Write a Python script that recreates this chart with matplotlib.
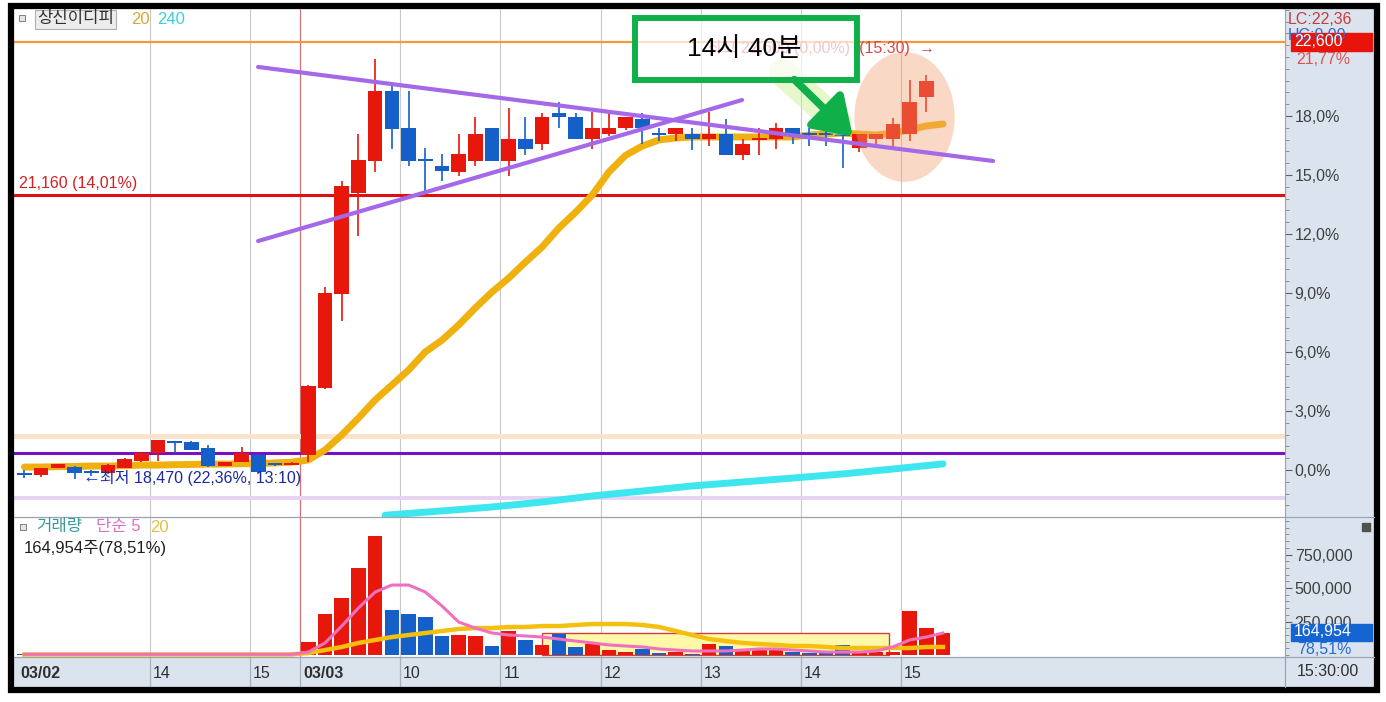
"""Intraday 10-minute candle chart: 상신이디피, 03/02 - 03/03."""

import matplotlib

matplotlib.use("Agg")
import matplotlib.pyplot as plt
import numpy as np
from matplotlib.lines import Line2D
from matplotlib.patches import Ellipse, Rectangle
from matplotlib.ticker import FixedLocator, FuncFormatter, MultipleLocator

plt.rcParams["font.family"] = ["Liberation Sans", "Noto Sans CJK KR", "DejaVu Sans"]

W, H = 1386, 702

# ---- data: 10-minute slots, 0 = 03/03 09:00, negatives = 03/02 afternoon ----
slots = list(range(-17, 39))
opens = [-0.18, -0.25, 0.1, 0.15, -0.1, -0.15, 0.1, 0.46, 0.86, 1.42, 1.42, 1.12, 0.2, 0.41, 0.76, 0.3, 0.3,
         0.76, 4.17, 8.95, 14.08, 15.71, 19.27, 17.39, 15.78, 15.45, 15.15, 15.71, 17.39, 15.71, 16.83,
         16.57, 18.15, 17.95, 16.83, 17.08, 17.39, 17.85, 17.08, 17.08, 17.08, 16.83, 17.08, 16.0, 16.83,
         16.83, 17.39, 17.08, 17.08, 17.08, 16.37, 16.83, 16.83, 17.08, 18.96, 21.77]
closes = [-0.2, 0.1, 0.3, -0.15, -0.12, 0.25, 0.56, 0.86, 1.53, 1.40, 1.02, 0.2, 0.41, 0.86, -0.1, 0.29, 0.31,
          4.27, 9.0, 14.44, 15.76, 19.27, 17.34, 15.71, 15.76, 15.2, 16.07, 17.08, 15.71, 16.83, 16.32,
          17.95, 17.95, 16.83, 17.39, 17.39, 17.95, 17.39, 17.06, 17.39, 16.83, 17.08, 16.0, 16.57, 16.85,
          17.39, 17.08, 17.06, 17.06, 17.0, 17.08, 17.08, 17.6, 18.7, 19.78, 21.77]
highs = [0.0, 0.1, 0.3, 0.2, 0.0, 0.3, 0.6, 0.9, 1.55, 1.42, 1.45, 1.27, 0.41, 1.17, 0.8, 0.36, 0.4,
         4.3, 9.3, 14.7, 17.08, 20.9, 19.7, 19.27, 16.37, 16.07, 17.08, 17.95, 17.39, 18.4, 17.95,
         18.15, 18.7, 18.15, 18.2, 18.2, 17.95, 18.15, 17.39, 17.39, 17.39, 18.2, 17.85, 16.83, 17.39,
         17.65, 17.39, 17.39, 17.39, 17.2, 17.1, 17.08, 17.9, 19.83, 20.08, 21.77]
lows = [-0.4, -0.36, 0.1, -0.48, -0.3, -0.2, 0.1, 0.4, 0.46, 0.86, 1.0, 0.15, 0.2, 0.4, -0.15, 0.2, 0.25,
        0.41, 4.1, 7.6, 11.9, 15.15, 16.3, 15.45, 14.13, 14.69, 14.95, 15.45, 15.71, 14.95, 16.0,
        16.27, 17.39, 16.83, 16.32, 16.98, 17.29, 16.57, 16.73, 16.73, 16.27, 16.47, 16.0, 15.76, 16.0,
        16.32, 16.57, 16.47, 16.47, 15.37, 16.17, 16.5, 16.42, 16.73, 18.2, 21.77]
ma20 = [0.15, 0.15, 0.17, 0.18, 0.2, 0.2, 0.22, 0.25, 0.25, 0.27, 0.28, 0.3, 0.3, 0.32, 0.33, 0.36, 0.4,
        0.51, 1.02, 1.78, 2.64, 3.56, 4.32, 5.08, 6.0, 6.6, 7.37, 8.24, 9.05, 9.76, 10.57, 11.34, 12.3,
        13.1, 13.98, 15.15, 16.0, 16.47, 16.78, 16.88, 16.93, 16.93, 16.93, 16.93, 16.93, 16.93, 16.93,
        17.03, 17.08, 17.13, 17.08, 17.03, 17.13, 17.29, 17.49, 17.59]
ma240_slots = [5.1, 8.5, 11.5, 14.5, 17.5, 20.5, 23.5, 26.5, 29.5, 32.5, 35.5, 38.5]
ma240 = [-2.3, -2.08, -1.88, -1.63, -1.32, -1.07, -0.81, -0.61, -0.41, -0.2, 0.05, 0.31]

# volume in thousands of shares
volume = [4, 6, 3, 5, 3, 4, 5, 6, 8, 4, 3, 5, 4, 3, 6, 4, 3,
          97, 306, 425, 649, 888, 336, 306, 284, 142, 149, 142, 67, 179, 112, 75, 157, 60, 82, 37, 22,
          45, 15, 22, 8, 82, 67, 45, 45, 37, 22, 15, 12, 75, 22, 22, 22, 328, 201, 165]
vol_ma5 = [5] * 17 + [22, 90, 216, 351, 470, 522, 522, 470, 366, 246, 201, 164, 149, 142, 134, 119, 104,
                      90, 75, 67, 60, 45, 37, 30, 30, 30, 37, 45, 45, 37, 30, 22, 22, 22, 30, 60, 112,
                      134, 164]
vol_ma20 = [4] * 17 + [15, 37, 60, 90, 112, 134, 149, 164, 179, 194, 201, 201, 209, 209, 216, 216, 224,
                       231, 231, 231, 224, 209, 179, 149, 119, 104, 90, 82, 75, 67, 67, 60, 52, 52, 52,
                       52, 52, 60, 60]

# triangle trend lines (slot, %)
upper_x, upper_y = [-2.51, 41.5], [20.49, 15.71]
lower_x, lower_y = [-2.51, 26.47], [11.64, 18.81]

level_now = 21.77      # 22,600
level_mark = 13.97     # 21,160 (14,01%)
level_peach = 1.73
level_purple = 0.86
level_lilac = -1.42

grid_slots = [-9, -3, 6, 12, 18, 24, 30, 36]
axis_labels = [(-16.95, "03/02", True), (-9, "14", False), (-3, "15", False), (0, "03/03", True),
               (6, "10", False), (12, "11", False), (18, "12", False), (24, "13", False),
               (30, "14", False), (36, "15", False)]

RED = "#e8170c"
BLUE = "#1560c8"
AXIS_BG = "#dbe4ee"
GREEN = "#0fb04a"
XLIM = ((14 - 300) / 16.7, (1285 - 300) / 16.7)


def box_px(x0, y0, x1, y1):
    return [x0 / W, 1 - y1 / H, (x1 - x0) / W, (y1 - y0) / H]


def ftext(x, y, s, **kw):
    kw.setdefault("va", "center")
    kw.setdefault("fontsize", 11.5)
    fig.text(x / W, 1 - y / H, s, **kw)


def frect(x0, y0, x1, y1, **kw):
    fig.patches.append(Rectangle((x0 / W, 1 - y1 / H), (x1 - x0) / W, (y1 - y0) / H,
                                 transform=fig.transFigure, **kw))


def fline(x0, y0, x1, y1, **kw):
    fig.lines.append(Line2D([x0 / W, x1 / W], [1 - y0 / H, 1 - y1 / H], transform=fig.transFigure, **kw))


fig = plt.figure(figsize=(W / 100, H / 100), dpi=100)
fig.patch.set_facecolor("white")

frect(1285, 8, 1374, 687, color=AXIS_BG, zorder=-2)
frect(14, 657, 1285, 687, color=AXIS_BG, zorder=-2)

ax_p = fig.add_axes(box_px(14, 9, 1285, 517))
ax_v = fig.add_axes(box_px(14, 517, 1285, 657))
ax_x = fig.add_axes(box_px(14, 657, 1285, 687))

x = np.array(slots) + 0.5
o, c, h, l = (np.array(v) for v in (opens, closes, highs, lows))
colors = np.where(c >= o, RED, BLUE)

for ax in (ax_p, ax_v):
    ax.set_xlim(*XLIM)
    ax.set_facecolor("white")
    for side in ("left", "top", "bottom"):
        ax.spines[side].set_visible(False)
    ax.spines["right"].set_color("#9aa4b0")
    ax.set_xticks([])
    ax.vlines(grid_slots, 0, 1, transform=ax.get_xaxis_transform(), color="#c8c8c8", lw=0.8, zorder=1)
    ax.vlines([0], 0, 1, transform=ax.get_xaxis_transform(), color="#d07070", lw=0.9, zorder=1)
    ax.yaxis.tick_right()
    ax.tick_params(axis="y", which="major", length=5, color="#606060", labelsize=11.5,
                   labelcolor="#404040", pad=2)
    ax.tick_params(axis="y", which="minor", length=3, color="#808080")

# ---- price panel ----
ax_p.set_ylim((470 - 517) / 19.67, (470 - 9) / 19.67)
ax_p.yaxis.set_major_locator(FixedLocator([0, 3, 6, 9, 12, 15, 18]))
ax_p.yaxis.set_minor_locator(MultipleLocator(0.6))
ax_p.yaxis.set_major_formatter(FuncFormatter(lambda v, _: f"{v:.1f}%".replace(".", ",")))

ax_p.axhline(level_peach, color="#fbe2cb", lw=3.6, zorder=1.5)
ax_p.axhline(level_lilac, color="#e6d3f2", lw=2.8, zorder=1.5)
ax_p.axhline(level_purple, color="#7412c4", lw=2.2, zorder=2)
ax_p.axhline(level_mark, color="#e01010", lw=2.2, zorder=2)

ax_p.plot(ma240_slots, ma240, color="#3ee6ef", lw=5, solid_capstyle="round", zorder=2)
ax_p.plot(x, ma20, color="#f0b00e", lw=5, solid_capstyle="round", zorder=2.5)

ax_p.vlines(x, l, h, colors=colors, lw=1.2, zorder=3)
body = np.maximum(np.abs(c - o), 0.09)
ax_p.bar(x, body, bottom=(o + c) / 2 - body / 2, width=0.88, color=colors, zorder=3)

ax_p.axhline(level_now, color="#f39a3e", lw=1.6, zorder=4)

ax_p.add_patch(Ellipse((36.2, 17.95), 6.0, 6.6, facecolor="#f0a070", alpha=0.4, lw=0, zorder=5))
ax_p.plot(upper_x, upper_y, color="#a468e8", lw=3, solid_capstyle="round", zorder=6)
ax_p.plot(lower_x, lower_y, color="#a468e8", lw=3, solid_capstyle="round", zorder=6)

ax_p.text(-16.85, level_mark + 0.62, "21,160 (14,01%)", color="#d42020", fontsize=11.5, va="center", zorder=7)
ax_p.text(-13.05, -0.41, "←", color="#1030e0", fontsize=13, fontweight="bold", va="center", zorder=7)
ax_p.text(-12.0, -0.41, "최저 18,470 (22,36%, 13:10)", color="#1c2aa0", fontsize=11.5, va="center", zorder=7)
ax_p.text(38.0, 21.45, "최고 22,600 (0,00%)  (15:30)  →", color="#d84848", fontsize=11.5, ha="right",
          va="center", zorder=7)

# annotation: green box, arrow with glow
ax_p.plot([28.9, 32.2], [20.2, 17.7], color="#c8f08c", lw=20, alpha=0.45, solid_capstyle="round", zorder=7)
ax_p.add_patch(Rectangle((20.06, 19.83), 13.29, 3.15, facecolor="white", alpha=0.7, edgecolor="none", zorder=8))
ax_p.add_patch(Rectangle((20.06, 19.83), 13.29, 3.15, facecolor="none", edgecolor=GREEN, lw=4.3, zorder=8))
ax_p.text(26.6, 21.4, "14시 40분", color="black", fontsize=19, ha="center", va="center",
          family=["Liberation Sans", "Noto Sans CJK KR"], zorder=9)
ax_p.annotate("", xy=(33.1, 16.95), xytext=(29.6, 19.85),
              arrowprops=dict(arrowstyle="-|>,head_width=0.5,head_length=0.75", lw=5.5, color=GREEN,
                              mutation_scale=30, shrinkA=0, shrinkB=0), zorder=9)

# ---- volume panel ----
vol = np.array(volume) * 1000
ax_v.set_ylim((655 - 657) * 7463, (655 - 517) * 7463)
ax_v.add_patch(Rectangle((14.49, 0), 20.78, 164000, facecolor="#fff8a8", edgecolor="#d04040",
                         lw=1.0, zorder=2))
ax_v.bar(x, vol, width=0.88, color=colors, zorder=3)
ax_v.plot(x, np.array(vol_ma20) * 1000, color="#f4c010", lw=3.2, zorder=4)
ax_v.plot(x, np.array(vol_ma5) * 1000, color="#f070c0", lw=2.2, zorder=4)
ax_v.yaxis.set_major_locator(FixedLocator([250000, 500000, 750000]))
ax_v.yaxis.set_minor_locator(MultipleLocator(50000))
ax_v.yaxis.set_major_formatter(FuncFormatter(lambda v, _: f"{int(v):,}"))

# ---- time axis strip ----
ax_x.set_xlim(*XLIM)
ax_x.set_ylim(0, 1)
ax_x.axis("off")
ax_x.vlines([-9, -3, 0, 6, 12, 18, 24, 30, 36], 0, 1, color="#a8b2be", lw=0.9)
for pos, lab, bold in axis_labels:
    ax_x.text(pos + 0.18, 0.45, lab, fontsize=11.5, va="center", color="#303030",
              fontweight="bold" if bold else "normal")

# ---- separators and frame ----
fline(14, 517, 1374, 517, color="#9aa4b0", lw=0.9)
fline(14, 657, 1374, 657, color="#9aa4b0", lw=0.9)
fline(1285, 657, 1285, 687, color="#9aa4b0", lw=0.9)

# ---- header / side labels ----
frect(19, 15, 25, 21, facecolor="#e4e4e4", edgecolor="#808080", lw=0.7)
ftext(37, 19, "상신이디피", color="#303030", fontsize=12,
      bbox=dict(boxstyle="square,pad=0.12", facecolor="#ececec", edgecolor="#b0b0b0", lw=0.8))
ftext(131, 19, "20", color="#d4aa30", fontsize=12)
ftext(157, 19, "240", color="#38d0e0", fontsize=12)

frect(20, 524, 26, 530, facecolor="#e4e4e4", edgecolor="#808080", lw=0.7)
ftext(36, 527, "거래량", color="#3a9a9a", fontsize=12)
ftext(96, 527, "단순 5", color="#e070c0", fontsize=12)
ftext(150, 527, "20", color="#e0c040", fontsize=12)
ftext(24, 548, "164,954주(78,51%)", color="#202020", fontsize=12)

ftext(1288, 19, "LC:22,36", color="#c83c3c")
ftext(1288, 35, "HC:0,00", color="#3c64c8")
frect(1291, 33, 1372, 51, color="#e8140c")
ftext(1294, 42, "22,600", color="white")
ftext(1296, 60, "21,77%", color="#e05050")

frect(1362, 523, 1370, 531, color="#505050")
frect(1291, 624, 1372, 641, color="#1464d2")
ftext(1294, 632, "164,954", color="white")
ftext(1297, 649, "78,51%", color="#2a6ad8")
ftext(1297, 671, "15:30:00", color="#303030")

frect(11, 6, 1377, 690, facecolor="none", edgecolor="black", lw=4.5)

fig.savefig("out.png", dpi=100)
